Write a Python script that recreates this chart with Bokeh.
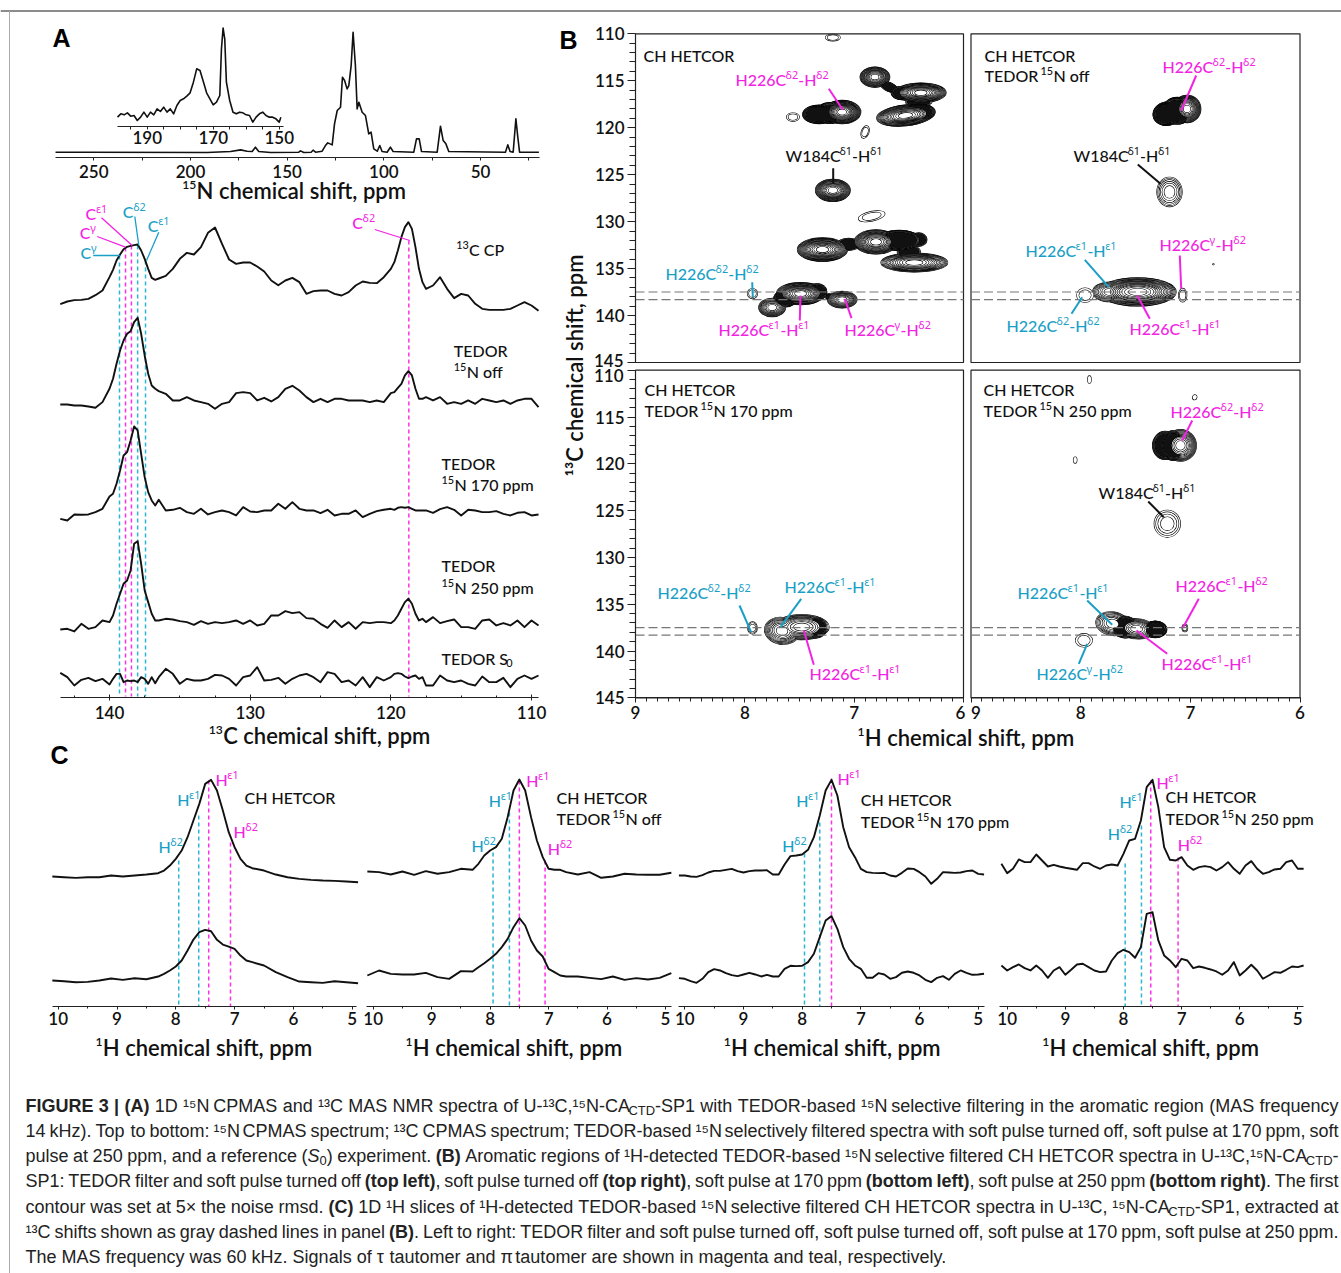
from bokeh.plotting import figure
from bokeh.models import Range1d, LinearAxis, FixedTicker
from bokeh.core.properties import value
from bokeh.embed import file_html
from bokeh.resources import INLINE
import re

# ---------- DATA: panel A, 15N CPMAS ----------
N15_PPM = [269.8,253.4,191.4,179.3,174.1,170.7,168.1,166.4,164.7,158.6,144,143.1,141.4,137.6,136.6,135.3,131.9,130.2,129,126.7,
           125.5,124.1,122.4,121.4,120.3,119,118.1,116.9,115.9,114.7,113.8,112.9,111.2,109.5,107.8,106.6,105.2,103.4,102.1,100.9,
           98.3,96.6,95.2,84.5,83.1,81.7,80.5,72.4,70.7,69.3,67.9,66.4,37.1,35.9,34.7,33.1,31.7,30.7,29.8,19.8]
N15_INT = [0,0,-1,2,7,3,2,15,2,-1,0,4,-1,0,6,0,3,20,28,22,85,125,135,225,215,190,200,260,360,260,130,150,120,110,55,60,10,3,20,2,
           0,15,2,0,40,40,2,0,78,35,25,2,0,22,2,0,100,45,0,0]
INSET_PPM = [199,198,197,196,195,194,193,192,191,190,189,188,187,186,185,184,183,182,181,180,179,178,177,176,175,174,173,172,171,170,169,168,
             167.5,167,166.5,166,165,164,163,162,161,160,159,158,157,156,155,154,153,152,151,150,149.5]
INSET_INT = [25,35,32,38,28,30,15,25,40,25,40,32,50,42,55,40,50,35,60,75,80,88,98,130,170,165,132,98,80,62,70,90,
             230,292,260,130,75,40,35,40,38,32,30,10,25,35,40,30,25,25,20,10,25]
N15_TICKS = [250,200,150,100,50]
N15_MINOR = [225,175,125,75,25]
INSET_TICKS = [190,170,150]
INSET_MINOR = [195,185,180,175,165,160,155]

# ---------- DATA: panel A, 13C traces ----------
C13_PPM = [143.5,143,142.5,142,141.5,141,140.5,
           140,139.75,139.5,139.25,139,138.75,138.5,138.25,138,137.75,137.5,137.25,137,136.75,
           136.5,136,135.5,135,134.5,134,133.5,133,132.5,132,131.5,131,130.5,130,129.5,129,128.5,128,127.5,127,126.5,126,125.5,125,124.5,124,123.5,123,122.5,122,121.5,121,120.5,
           120,119.75,119.5,119.25,119,118.75,118.5,118.25,118,117.75,
           117.5,117,116.5,116,115.5,115,114.5,114,113.5,113,112.5,112,111.5,111,110.5,110,109.5]
C13_CP = [19,27,31,32,35,46,60,
          100,122,150,168,184,191,194,196,198,180,155,125,98,92,
          96,104,125,155,173,168,190,233,249,200,153,140,144,144,132,117,90,76,90,98,85,50,58,60,60,50,45,55,75,87,83,82,100,
          125,145,180,220,250,265,245,190,125,85,
          65,75,100,65,37,50,45,20,5,2,2,2,5,15,25,15,-1]
C13_OFF = [-2,-2,-5,-5,-8,-12,5,
           45,75,120,160,190,210,218,245,258,210,145,90,55,45,
           38,30,10,10,20,10,5,0,-15,0,5,32,35,32,10,18,7,20,45,54,40,20,5,15,5,15,15,10,10,10,5,10,5,
           32,35,48,60,85,98,85,45,15,15,
           20,10,20,0,5,0,10,0,15,10,5,10,0,10,15,15,-10]
C13_170 = [-15,-20,-2,-3,-2,5,15,
           52,60,90,130,175,185,220,262,250,180,110,65,40,25,
           42,10,12,18,5,0,15,-2,5,10,5,-5,20,7,5,10,10,30,15,35,15,10,10,2,12,-5,0,0,10,-10,0,8,12,
           15,12,18,20,18,20,15,10,10,10,
           10,3,14,20,12,-5,12,10,5,5,8,0,-5,3,5,-5,-2]
C13_250 = [-17,-15,-23,0,-15,-10,10,
           5,25,60,90,120,130,160,240,248,180,100,65,30,10,
           10,15,13,8,5,-3,8,0,5,2,5,10,0,10,-5,0,25,25,38,32,35,17,15,0,-12,10,-10,5,-15,5,2,5,5,
           2,10,25,45,65,75,60,30,10,15,
           5,20,2,8,13,-10,-10,-15,10,13,-5,2,-5,10,-10,10,-5]
C13_S0 = [23,10,-15,2,8,-2,5,
          -12,5,20,20,-5,0,-2,0,-5,10,5,-10,10,-8,
          10,35,20,-10,5,0,0,5,17,15,5,-15,10,15,40,0,2,8,-10,5,15,20,10,-5,25,20,-5,0,-15,10,-20,10,0,
          10,20,22,20,12,7,12,15,5,10,
          -15,-15,15,0,-5,0,-10,-15,12,-5,-5,8,-20,5,15,5,15]
C13_TICKS = [140,130,120,110]
C13_MINOR = [142.5,137.5,135,132.5,127.5,125,122.5,117.5,115,112.5]
A_TEAL_PPM = [139.29,138.0,137.44]
A_TEAL_TOP = [255,245,260]
A_MAG_PPM = [138.86,138.44,118.72]
A_MAG_TOP = [247,245,240]

# ---------- DATA: panel B peaks (1H ppm, 13C ppm, width 1H, width 13C, contour rings, tilt deg) ----------
# negative ring count: a shoulder lobe that stays dark inside; positive: a maximum with an open centre.
PEAKS_TL = [(7.195,110.40,.134,.70,2,0),
            (7.32,118.58,.30,1.95,-12,0),(7.11,118.33,.34,2.48,20,0),(7.22,118.44,.26,2.2,-10,0),
            (6.81,114.61,.27,2.13,16,0),(6.68,115.67,.18,.92,-4,-25),(6.39,116.28,.46,2.06,18,0),(6.56,116.31,.20,1.42,-6,0),
            (6.53,118.69,.53,2.2,18,6),(6.41,118.33,.30,1.77,-9,0),(6.41,117.27,.24,.85,-3,0),
            (7.56,118.87,.116,.85,2,0),(6.90,120.46,.067,1.35,2,-20),(7.195,126.67,.317,2.34,16,0),(6.84,129.43,.244,1.0,2,12),
            (7.29,132.98,.457,2.48,18,0),(7.05,132.41,.21,1.28,-3,0),(6.80,132.16,.40,2.55,18,0),(6.59,131.99,.40,2.13,-10,0),
            (6.41,131.92,.15,1.42,-4,0),(6.50,133.23,.21,1.42,-4,0),(6.45,134.36,.61,1.99,16,0),
            (7.49,137.66,.44,2.34,18,0),(7.63,138.19,.21,1.77,-8,0),(7.75,139.15,.244,1.95,11,0),(7.34,137.48,.18,1.77,-7,0),
            (7.11,138.3,.27,1.77,12,0),(7.23,138.0,.06,.6,-2,0),(7.93,137.66,.09,1.06,2,0)]
PEAKS_TR = [(7.21,118.5,.26,2.5,-11,10),(7.03,118.0,.25,2.9,16,0),(7.12,118.2,.27,2.85,-11,0),(7.19,126.84,.228,3.12,6,0),
            (7.48,137.48,.70,3.0,18,0),(7.73,137.48,.32,2.1,9,0),(7.25,137.48,.21,1.8,8,0),(7.96,137.83,.15,1.5,2,0),
            (7.07,137.83,.073,1.42,2,0),(6.79,134.54,.01,.1,1,0)]
PEAKS_BL = [(7.93,137.54,.085,1.28,3,0),(7.66,137.85,.32,2.85,10,-10),(7.48,137.44,.50,2.67,12,0),(7.35,137.5,.20,2.2,-7,0)]
PEAKS_BR = [(7.09,118.04,.289,3.38,13,0),(7.23,118.04,.228,3.0,-8,0),(7.15,118.04,.243,3.2,-9,0),(7.21,126.4,.237,2.85,4,0),
            (7.71,137.08,.304,2.5,8,-10),(7.60,137.43,.27,2.3,-7,-8),(7.49,137.62,.334,2.14,10,-5),(7.32,137.69,.21,1.78,-8,0),
            (7.97,138.86,.152,1.42,2,0),(7.05,137.54,.049,.78,2,0),
            (7.92,111.0,.03,.78,1,0),(8.05,119.6,.03,.64,1,0),(6.96,112.9,.036,.5,1,-30)]
SLICE_C = [137.5,138.3]
H_TICKS_B = [9,8,7,6]
C_TICKS_B = [110,115,120,125,130,135,140,145]

# ---------- DATA: panel C slices ----------
H_GRID_COARSE = [10.1,9.9,9.7,9.5,9.3,9.1,8.9,8.7,8.5,8.3,8.2,8.1,8.0,7.9,7.8,7.7,7.6,7.5,7.4,7.3,7.2,7.1,7.0,6.9,6.8,6.7,6.5,6.3,6.1,5.9,5.7,5.5,5.3,5.1,4.9]
H_GRID_FINE = [10.1,10.0,9.9,9.8,9.7,9.6,9.5,9.4,9.3,9.2,9.1,9.0,8.9,8.8,8.7,8.6,8.5,8.4,8.3,8.2,8.1,8.0,7.9,7.8,7.7,7.6,7.5,7.4,7.3,7.2,7.1,7.0,
               6.9,6.8,6.7,6.6,6.5,6.4,6.3,6.2,6.1,6.0,5.9,5.8,5.7,5.6,5.5,5.4,5.3,5.2,5.1,5.0,4.9]
P1_TOP = [2,0,-2,0,0,5,2,5,8,12,20,35,55,80,120,170,220,280,292,260,200,135,90,55,35,27,20,8,0,-5,-8,-10,-11,-13,-15]
P1_BOT = [2,0,-3,-2,2,8,4,9,6,14,22,32,44,62,92,125,147,154,150,124,110,104,97,77,62,57,47,27,12,-1,-3,-5,0,-3,-6]
P2_TOP = [7,5,-2,7,-3,8,0,5,15,12,30,55,70,80,105,170,250,283,250,170,100,50,15,12,12,5,-2,5,-12,-8,0,-2,-3,-3,3]
P2_BOT = [0,15,5,3,3,8,-5,-10,13,12,25,37,50,65,85,110,145,172,150,105,75,57,20,10,0,-3,-3,-7,-11,-3,-13,-8,-12,-7,7]
P3_TOP = [0,0,-3,-4,1,9,14,14,17,20,13,9,13,15,15,16,3,3,33,58,60,63,77,115,180,255,287,240,145,85,55,20,10,8,7,8,0,-3,8,21,20,10,-3,-25,-10,10,9,8,9,13,15,5,3]
P3_BOT = [-1,-3,-10,-15,-3,17,26,22,14,8,5,10,15,10,4,9,4,4,27,36,35,36,47,72,122,172,185,147,92,57,37,27,0,0,14,10,-3,2,15,19,15,7,-6,-13,0,5,-6,12,22,15,9,10,12]
P4_TOP = [15,-13,0,28,20,20,43,25,7,12,7,3,0,-3,17,17,7,0,10,13,10,45,85,90,145,245,267,185,65,27,25,35,10,-3,5,8,5,-5,5,20,0,-15,10,23,0,-15,-10,-2,0,20,25,0,0]
P4_BOT = [10,-5,5,13,2,-5,10,-5,-27,-5,5,-18,-3,13,15,5,-5,-10,-8,25,47,57,50,33,65,165,170,85,40,25,5,30,25,2,7,3,-2,-8,-18,-5,20,-20,-5,12,-5,-30,-20,-10,-12,-3,7,5,10]
H_TICKS_C = [10,9,8,7,6,5]
H_MINOR_C = [9.5,8.5,7.5,6.5,5.5]
P1_TEAL = [7.95,7.61]; P1_MAG = [7.44,7.07]
P2_TEAL = [7.95,7.67]; P2_MAG = [7.50,7.06]
P3_TEAL = [7.96,7.70]; P3_MAG = [7.50]
P4_TEAL = [7.97,7.69]; P4_MAG = [7.53,7.06]

# ---------- style ----------
W, H = 1341, 1273
MAG_D, TEAL_D = "#ff30e8", "#2bb6d2"
MAG, TEAL = "#f224e2", "#1a9fc6"
SANS = "Lato Medium, Lato"
HEAVY = "Lato Semibold, Lato"
GREEK = "Noto Sans"

p = figure(width=W, height=H, x_range=Range1d(0, W), y_range=Range1d(H, 0),
           x_axis_type=None, y_axis_type=None, toolbar_location=None, output_backend="svg",
           min_border=0, outline_line_color=None)
p.background_fill_color = "white"
p.border_fill_color = "white"

def xr(name, d0, p0, d1, p1):
    k = (d1 - d0) / (p1 - p0)
    p.extra_x_ranges[name] = Range1d(d0 + (0 - p0) * k, d0 + (W - p0) * k)

def yr(name, d0, p0, d1, p1):
    k = (d1 - d0) / (p1 - p0)
    p.extra_y_ranges[name] = Range1d(d0 + (H - p0) * k, d0 + (0 - p0) * k)

xr("n15", 250, 93.3, 50, 480)
xr("inset", 190, 146.7, 150, 278.7)
xr("c13", 140, 109, 110, 531)
xr("b1", 9, 635, 6, 963)
xr("b2", 9, 970.5, 6, 1299.5)
yr("row1", 110, 33.3, 145, 362)
yr("row2", 110, 369.7, 145, 697.3)
xr("p1", 10, 57.7, 5, 351.7)
xr("p2", 10, 372.7, 5, 665)
xr("p3", 10, 684.3, 5, 977.7)
xr("p4", 10, 1006.7, 5, 1297.3)

def haxis(rng, ypx, ticks, minor, bounds, size="17px", m_out=4, mi_out=2, m_in=0, mi_in=0, standoff=3, hide=None):
    ax = LinearAxis(x_range_name=rng, fixed_location=ypx, bounds=bounds,
                    ticker=FixedTicker(ticks=ticks, minor_ticks=minor))
    ax.major_tick_out, ax.major_tick_in = m_out, m_in
    ax.minor_tick_out, ax.minor_tick_in = mi_out, mi_in
    ax.major_label_text_font = HEAVY
    ax.major_label_text_font_size = size
    ax.major_label_text_color = "#111111"
    ax.major_label_standoff = standoff
    ax.axis_line_color = "#222222"
    ax.major_tick_line_color = "#222222"
    ax.minor_tick_line_color = "#222222"
    if hide is not None:
        ax.major_label_overrides = {hide: ""}
    p.add_layout(ax, "below")

def vaxis(rng, xpx, ticks, minor, bounds, hide=None):
    ax = LinearAxis(y_range_name=rng, fixed_location=xpx, bounds=bounds,
                    ticker=FixedTicker(ticks=ticks, minor_ticks=minor))
    ax.major_tick_out, ax.major_tick_in = 8, 0
    ax.minor_tick_out, ax.minor_tick_in = 6, 0
    ax.major_label_text_font = HEAVY
    ax.major_label_text_font_size = "17px"
    ax.major_label_text_color = "#111111"
    ax.major_label_standoff = 3
    ax.axis_line_color = "#222222"
    ax.major_tick_line_color = "#222222"
    ax.minor_tick_line_color = "#222222"
    if hide is not None:
        ax.major_label_overrides = {hide: ""}
    p.add_layout(ax, "left")

CW = {' ':.2,',':.22,'.':.22,'i':.23,'l':.23,'f':.32,'t':.35,'r':.36,'s':.43,'c':.47,'e':.52,'a':.5,'o':.58,'n':.56,'h':.56,
      'm':.83,'p':.56,'u':.56,'y':.5,'d':.56,'H':.74,'C':.65,'N':.75,'W':.98,'T':.58,'E':.58,'D':.73,'O':.79,'R':.62,'S':.54,
      '-':.37,'δ':.56,'ε':.48,'γ':.52}

def txt(x, y, s, size=15, color="#111111", font=SANS, style="normal", align="left", angle=0):
    p.text([x], [y], text=[s], text_font=value(font), text_font_size=f"{size}px", text_font_style=style,
           text_color=color, text_align=align, text_baseline="middle", angle=angle, angle_units="deg")

def rich(x, y, s, size=15, color="#111111", font=SANS, style="normal"):
    """Write s with ^{..} raised and _{..} lowered runs, left-aligned at x."""
    cx = x
    big = size >= 20
    for part in re.split(r"(\^\{[^}]*\}|_\{[^}]*\})", s):
        if not part:
            continue
        if part[0] in "^_" and part[1:2] == "{":
            t = part[2:-1]
            sz = size * (0.55 if big else 0.68)
            dy = (-0.24 if big else -0.3) * size if part[0] == "^" else 0.28 * size
            f = GREEK if re.search("[δεγ]", t) else font
            txt(cx, y + dy, t, sz, color, f, style)
            cx += sum(CW.get(c, .58) for c in t) * sz + 0.3
        else:
            txt(cx, y, part, size, color, font, style)
            cx += sum(CW.get(c, .58) for c in part) * size

def leader(x0, y0, x1, y1, color, width=2.0):
    p.line([x0, x1], [y0, y1], line_color=color, line_width=width)

def trace(rng, xs, vals, base, scale=1/3, width=1.9):
    p.line(list(xs)[:len(vals)], [base - v * scale for v in vals], x_range_name=rng,
           line_color="#111111", line_width=width, line_join="round")

def dashes(rng, ppm, tops, bottom, color, width=1.5):
    p.segment(x0=ppm, x1=ppm, y0=tops, y1=[bottom] * len(ppm), x_range_name=rng,
              line_color=color, line_width=width, line_dash="4 3")

# ---------- page rules ----------
p.line([0, W], [10.5, 10.5], line_color="#666666", line_width=1.5)
p.line([9, 9], [10.5, H], line_color="#aaaaaa", line_width=1)

# ---------- panel A ----------
trace("n15", N15_PPM, N15_INT, 151.7, width=1.6)
haxis("n15", 156.7, N15_TICKS, N15_MINOR, (19.6, 269.8), size="17px", m_out=3, mi_out=3, standoff=5)
trace("inset", INSET_PPM, INSET_INT, 125, width=1.6)
haxis("inset", 125.7, INSET_TICKS, INSET_MINOR, (148.8, 199), size="17px", m_out=3, mi_out=3, standoff=2)
rich(181.7, 190, "^{15}N chemical shift, ppm", 22, font=HEAVY)

dashes("c13", A_TEAL_PPM, A_TEAL_TOP, 696, TEAL_D)
dashes("c13", A_MAG_PPM, A_MAG_TOP, 696, MAG_D)
for vals, base in ((C13_CP, 310), (C13_OFF, 403.3), (C13_170, 513.3), (C13_250, 623.3), (C13_S0, 680)):
    trace("c13", C13_PPM, vals, base)
haxis("c13", 697.3, C13_TICKS, C13_MINOR, (109.5, 143.5), m_out=3, mi_out=0, m_in=3, mi_in=2, standoff=5)
rich(208.3, 735, "^{13}C chemical shift, ppm", 22, font=HEAVY)

for x, y, s, c in [(85, 213, "C^{ε1}", MAG), (122.3, 211, "C^{δ2}", TEAL), (147.3, 225, "C^{ε1}", TEAL),
                   (79.3, 232, "C^{γ}", MAG), (80, 252, "C^{γ}", TEAL), (351.7, 222, "C^{δ2}", MAG)]:
    rich(x, y, s, 16, c)
for a in [(101, 217.3, 131.7, 245, MAG), (134.3, 216, 138.3, 245, TEAL), (158.3, 231.7, 146, 260, TEAL),
          (96.7, 236, 125, 246.7, MAG), (92.7, 255, 119.3, 255, TEAL), (374.3, 229, 409.3, 240, MAG)]:
    leader(*a, width=1.3)
for x, y, s in [(455.7, 249, "^{13}C CP"), (453.3, 350, "TEDOR"), (453.3, 371, "^{15}N off"), (441, 463, "TEDOR"),
                (441, 484, "^{15}N 170 ppm"), (441, 565, "TEDOR"), (441, 587, "^{15}N 250 ppm"), (441, 658, "TEDOR S_{0}")]:
    rich(x, y, s, 16)

# ---------- panel B contours ----------
def ring_scale(n, k):
    return (1 - k / (2.5 * -n)) ** 0.5 if n < 0 else (1 - k / n) ** 0.5

def contours(peaks, xn, yn):
    top = max(abs(q[4]) for q in peaks)
    for k in range(top):
        rows = [q for q in peaks if abs(q[4]) > k]
        xs = [q[0] for q in rows]
        ys = [q[1] for q in rows]
        ws = [q[2] * ring_scale(q[4], k) for q in rows]
        hs = [q[3] * ring_scale(q[4], k) for q in rows]
        ang = [q[5] for q in rows]
        fills = ["#111111" if (q[4] < 0 and -q[4] == k + 1) else "white" for q in rows]
        p.ellipse(xs, ys, width=ws, height=hs, angle=ang, angle_units="deg", x_range_name=xn, y_range_name=yn,
                  fill_color=None, line_color="#000000", line_width=1.25)
        p.ellipse(xs, ys, width=ws, height=hs, angle=ang, angle_units="deg", x_range_name=xn, y_range_name=yn,
                  fill_color=fills, line_color=None)

contours(PEAKS_TL, "b1", "row1")
contours(PEAKS_TR, "b2", "row1")
contours(PEAKS_BL, "b1", "row2")
contours(PEAKS_BR, "b2", "row2")

for xn, yn in (("b1", "row1"), ("b2", "row1"), ("b1", "row2"), ("b2", "row2")):
    p.quad(left=[9], right=[6], top=[110], bottom=[145], x_range_name=xn, y_range_name=yn,
           fill_color=None, line_color="#222222", line_width=1.2)

for yn in ("row1", "row2"):
    for xn in ("b1", "b2"):
        p.segment(x0=[9] * 2, x1=[6] * 2, y0=SLICE_C, y1=SLICE_C, x_range_name=xn, y_range_name=yn,
                  line_color="#777777", line_width=1.1, line_dash="9 4")

vaxis("row1", 635, C_TICKS_B, [v for v in range(110, 146) if v % 5], (110, 145), hide=145)
vaxis("row2", 635, C_TICKS_B, [v for v in range(110, 146) if v % 5], (110, 145), hide=110)
txt(623, 360, "145", 17, font=HEAVY, align="right")
txt(623, 375, "110", 17, font=HEAVY, align="right")
mh = [round(6 + i / 10, 1) for i in range(31) if i % 10]
haxis("b1", 697.3, H_TICKS_B, mh, (6, 9), size="17px", m_out=5, mi_out=4, standoff=3, hide=6)
haxis("b2", 697.3, H_TICKS_B, mh, (6, 9), size="17px", m_out=5, mi_out=4, standoff=3, hide=9)
txt(960, 712, "6", 17, font=HEAVY, align="center")
txt(975.5, 712, "9", 17, font=HEAVY, align="center")
txt(574, 365, "¹³C chemical shift, ppm", 22, font=HEAVY, angle=90, align="center")
rich(857, 737, "^{1}H chemical shift, ppm", 22, font=HEAVY)

D = "H226C^{δ2}-H^{δ2}"
E = "H226C^{ε1}-H^{ε1}"
G = "H226C^{γ}-H^{δ2}"
W184 = "W184C^{δ1}-H^{δ1}"
LABELS_B = [(735, 79, D, MAG), (785, 155, W184, "#111111"), (665, 273, D, TEAL), (718, 329, E, MAG), (844, 329, G, MAG),
            (1162, 66, D, MAG), (1073, 155, W184, "#111111"), (1025, 250, E, TEAL), (1159, 244, G, MAG), (1006, 325, D, TEAL), (1129, 328, E, MAG),
            (657, 592, D, TEAL), (784, 586, E, TEAL), (809, 673, E, MAG),
            (1170, 411, D, MAG), (1098, 492, W184, "#111111"), (1017, 592, E, TEAL), (1175, 585, "H226C^{ε1}-H^{δ2}", MAG), (1161, 663, E, MAG), (1036, 673, G, TEAL)]
for x, y, s, c in LABELS_B:
    rich(x, y, s, 16, c)
LEADERS_B = [(828.3, 88.3, 842.3, 109.3, MAG), (832.7, 167.7, 832.7, 183.3, "#111111"), (751.7, 281.7, 752.3, 296.7, TEAL),
             (799.3, 320, 800, 295, MAG), (851, 317.7, 844.3, 298.3, MAG),
             (1195.7, 75, 1180.7, 110, MAG), (1137.3, 164, 1160, 183.3, "#111111"), (1084.3, 259.3, 1108.3, 286.7, TEAL),
             (1179.3, 255, 1180.7, 288.3, MAG), (1071, 313.3, 1081.7, 296.7, TEAL), (1149.3, 318.3, 1136.7, 295, MAG),
             (739, 605, 750.7, 631.7, TEAL), (800.7, 598.3, 780, 626.7, TEAL), (813.3, 664.3, 803.3, 630, MAG),
             (1191.7, 420, 1181.7, 440, MAG), (1147.7, 501, 1163.3, 516.7, "#111111"), (1086.7, 600, 1111.7, 624.3, TEAL),
             (1198.3, 598.3, 1182.7, 626.7, MAG), (1166.7, 653.3, 1136, 630, MAG), (1078.3, 663.3, 1086.7, 643.3, TEAL)]
for a in LEADERS_B:
    leader(*a, width=2)
for x, y, s in [(643, 55, "CH HETCOR"), (984, 55, "CH HETCOR"), (984, 75, "TEDOR ^{15}N off"), (644, 389, "CH HETCOR"),
                (644, 410, "TEDOR ^{15}N 170 ppm"), (983, 389, "CH HETCOR"), (983, 410, "TEDOR ^{15}N 250 ppm")]:
    rich(x, y, s, 16)

# ---------- panel C ----------
dashes("p1", P1_TEAL, [860, 815], 1006, TEAL_D)
dashes("p1", P1_MAG, [780, 842], 1006, MAG_D)
dashes("p2", P2_TEAL, [852, 812], 1006, TEAL_D)
dashes("p2", P2_MAG, [780, 860], 1006, MAG_D)
dashes("p3", P3_TEAL, [853, 822], 1006, TEAL_D)
dashes("p3", P3_MAG, [778], 1006, MAG_D)
dashes("p4", P4_TEAL, [863, 825], 1006, TEAL_D)
dashes("p4", P4_MAG, [780, 857], 1006, MAG_D)
trace("p1", H_GRID_COARSE, P1_TOP, 876.7); trace("p1", H_GRID_COARSE, P1_BOT, 980.7)
trace("p2", H_GRID_COARSE, P2_TOP, 873.3); trace("p2", H_GRID_COARSE, P2_BOT, 975)
trace("p3", H_GRID_FINE, P3_TOP, 875); trace("p3", H_GRID_FINE, P3_BOT, 977.3)
trace("p4", H_GRID_FINE, P4_TOP, 868.3); trace("p4", H_GRID_FINE, P4_BOT, 968.3)
for rng, bnd in (("p1", (4.93, 10.1)), ("p2", (4.9, 10.11)), ("p3", (4.9, 10.1)), ("p4", (4.9, 10.14))):
    haxis(rng, 1006, H_TICKS_C, H_MINOR_C, bnd, m_out=3, mi_out=2, standoff=2)
for x in (95, 405, 723.3, 1041.7):
    rich(x, 1047, "^{1}H chemical shift, ppm", 22, font=HEAVY)
LABELS_C = [(215, 779, "H^{ε1}", MAG), (176.7, 799, "H^{ε1}", TEAL), (233, 831, "H^{δ2}", MAG), (158, 846, "H^{δ2}", TEAL),
            (525.7, 780, "H^{ε1}", MAG), (488.3, 800, "H^{ε1}", TEAL), (547.3, 848, "H^{δ2}", MAG), (471, 845, "H^{δ2}", TEAL),
            (837, 778, "H^{ε1}", MAG), (795.7, 800, "H^{ε1}", TEAL), (781.7, 845, "H^{δ2}", TEAL),
            (1156, 782, "H^{ε1}", MAG), (1119, 801, "H^{ε1}", TEAL), (1107.3, 833, "H^{δ2}", TEAL), (1177.3, 844, "H^{δ2}", MAG)]
for x, y, s, c in LABELS_C:
    rich(x, y, s, 16, c)
for x, y, s in [(244, 797, "CH HETCOR"), (556, 797, "CH HETCOR"), (556, 818, "TEDOR ^{15}N off"), (860.3, 799, "CH HETCOR"),
                (860.3, 821, "TEDOR ^{15}N 170 ppm"), (1165, 796, "CH HETCOR"), (1165, 818, "TEDOR ^{15}N 250 ppm")]:
    rich(x, y, s, 16)

# ---------- panel letters ----------
for x, y, s in [(52, 37, "A"), (559, 39, "B"), (50, 754, "C")]:
    txt(x, y, s, 25, "#000000", "Liberation Sans", "bold")

# ---------- caption (justified word by word) ----------
CAP = "Liberation Sans"
CAP_SIZE = 18
AW = {' ':278,'(':333,')':333,',':278,'-':333,'.':278,':':278,';':278,'|':260,'×':584,'τ':430,'π':550,
      '¹':333,'³':333,'⁵':333,'A':667,'B':667,'C':722,'D':722,'E':667,'F':611,'G':778,'H':722,'I':278,'J':500,'K':667,'L':556,'M':833,
      'N':722,'O':778,'P':667,'Q':778,'R':722,'S':667,'T':611,'U':722,'V':667,'W':944,'X':667,'Y':667,'Z':611,
      'a':556,'b':556,'c':500,'d':556,'e':556,'f':278,'g':556,'h':556,'i':222,'j':222,'k':500,'l':222,'m':833,'n':556,'o':556,
      'p':556,'q':556,'r':333,'s':500,'t':278,'u':556,'v':500,'w':722,'x':500,'y':500,'z':500}
BW = {'t':333,'o':611,'p':611,'l':278,'e':556,'f':333,'r':389,'i':278,'g':611,'h':611,'b':611,'m':889,'A':722,'B':722,'|':280}

def cap_w(s, style, size):
    return sum((BW.get(c, AW.get(c, 556)) if style == "bold" else AW.get(c, 556)) for c in s) * size / 1000

def cap_line(y, line, x0=25, x1=1338, justify=True):
    words = [[]]
    for piece in re.split(r"(\*[^*]*\*|~[^~]*~|/[^/]*/)", line):
        if not piece:
            continue
        style, t = "normal", piece
        if piece[0] == "*": style, t = "bold", piece[1:-1]
        elif piece[0] == "~": style, t = "sub", piece[1:-1]
        elif piece[0] == "/": style, t = "italic", piece[1:-1]
        for i, chunk in enumerate(t.split(" ")):
            if i:
                words.append([])
            if chunk:
                words[-1].append((chunk, style))
    words = [w for w in words if w]
    widths = [sum(cap_w(c, "normal" if s == "sub" else s, CAP_SIZE * (.72 if s == "sub" else 1)) for c, s in w) for w in words]
    gap = (x1 - x0 - sum(widths)) / (len(words) - 1) if justify else .278 * CAP_SIZE
    cx = x0
    for w, wd in zip(words, widths):
        px = cx
        for c, s in w:
            if s == "sub":
                txt(px, y + 5, c, CAP_SIZE * .72, "#222222", CAP)
                px += cap_w(c, "normal", CAP_SIZE * .72)
            else:
                txt(px, y, c, CAP_SIZE, "#222222", CAP, s)
                px += cap_w(c, s, CAP_SIZE)
        cx += wd + gap

CAPTION = [
    (1105, "*FIGURE 3 | (A)* 1D ¹⁵N CPMAS and ¹³C MAS NMR spectra of U-¹³C,¹⁵N-CA~CTD~-SP1 with TEDOR-based ¹⁵N selective filtering in the aromatic region (MAS frequency", True),
    (1130, "14 kHz). Top to bottom: ¹⁵N CPMAS spectrum; ¹³C CPMAS spectrum; TEDOR-based ¹⁵N selectively filtered spectra with soft pulse turned off, soft pulse at 170 ppm, soft", True),
    (1155, "pulse at 250 ppm, and a reference (/S/~0~) experiment. *(B)* Aromatic regions of ¹H-detected TEDOR-based ¹⁵N selective filtered CH HETCOR spectra in U-¹³C,¹⁵N-CA~CTD~-", True),
    (1180, "SP1: TEDOR filter and soft pulse turned off *(top left)*, soft pulse turned off *(top right)*, soft pulse at 170 ppm *(bottom left)*, soft pulse at 250 ppm *(bottom right)*. The first", True),
    (1206, "contour was set at 5× the noise rmsd. *(C)* 1D ¹H slices of ¹H-detected TEDOR-based ¹⁵N selective filtered CH HETCOR spectra in U-¹³C, ¹⁵N-CA~CTD~-SP1, extracted at", True),
    (1231, "¹³C shifts shown as gray dashed lines in panel *(B)*. Left to right: TEDOR filter and soft pulse turned off, soft pulse turned off, soft pulse at 170 ppm, soft pulse at 250 ppm.", True),
    (1256, "The MAS frequency was 60 kHz. Signals of τ tautomer and π tautomer are shown in magenta and teal, respectively.", False),
]
for y, line, j in CAPTION:
    cap_line(y, line, justify=j)

open("out.html", "w").write(file_html(p, INLINE))
